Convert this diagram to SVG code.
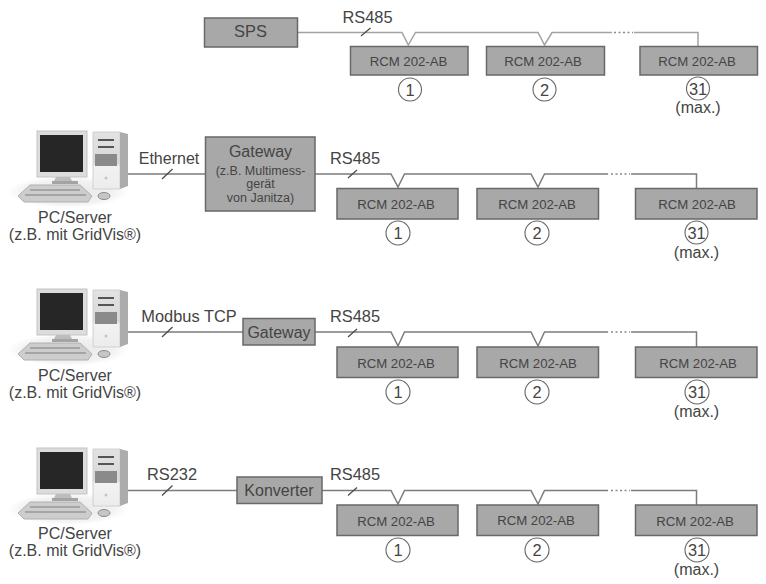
<svg xmlns="http://www.w3.org/2000/svg" xmlns:xlink="http://www.w3.org/1999/xlink" width="766" height="584" viewBox="0 0 766 584">
<style>
text{font-family:"Liberation Sans",Arial,sans-serif;fill:#444;text-anchor:middle}
.box{fill:#a8a8a8;stroke:#686868;stroke-width:1.5}
.rcm{font-size:13.2px}
.lab{font-size:16.4px}
.title{font-size:16px}
.small{font-size:12.5px}
.pc{font-size:16px}
.wire{fill:none;stroke:#7c7c7c;stroke-width:1.5}
.light{fill:none;stroke:#a2a2a2;stroke-width:1.5}
.dark{fill:none;stroke:#4c4c4c;stroke-width:1.3}
.dot{fill:none;stroke:#8a8a8a;stroke-width:1.5;stroke-dasharray:2 2.500}
.circ{fill:#fff;stroke:#666;stroke-width:1.1}
</style>
<defs>
<linearGradient id="tower" x1="0" x2="0" y1="0" y2="1"><stop offset="0" stop-color="#e2e2e2"/><stop offset="0.55" stop-color="#d8d8d8"/><stop offset="0.6" stop-color="#f2f2f2"/><stop offset="1" stop-color="#ececec"/></linearGradient>
<radialGradient id="glow"><stop offset="0" stop-color="#e6e6e6"/><stop offset="0.75" stop-color="#f2f2f2"/><stop offset="1" stop-color="#fff"/></radialGradient>
<g id="pcicon">
<ellipse cx="68" cy="72" rx="60" ry="16" fill="url(#glow)"/>
<rect x="37" y="11" width="50" height="46" fill="#dcdcdc" stroke="#c4c4c4"/>
<rect x="40" y="15" width="43" height="37" fill="#262626"/>
<path d="M56 57h14l2 4H54z" fill="#bcbcbc"/>
<rect x="52" y="61" width="26" height="3" fill="#a4a4a4"/>
<path d="M93 12H120V69H93z" fill="url(#tower)" stroke="#d0d0d0"/>
<path d="M120 12l8 2V66l-8 3z" fill="#acacac"/>
<rect x="98" y="19" width="16" height="2" fill="#555"/>
<rect x="98" y="26" width="16" height="2" fill="#555"/>
<rect x="95" y="34" width="22" height="12" fill="#8a8a8a"/>
<circle cx="106" cy="58" r="1.500" fill="#c4c4c4"/>
<path d="M30 65H80L92 76 88 82H24L18 76z" fill="#cdcdcd" stroke="#b0b0b0"/>
<path d="M30 70H80M25 75H86" stroke="#989898" stroke-width="1.500" fill="none"/>
<ellipse cx="104" cy="76" rx="6" ry="3.500" fill="#c6c6c6" stroke="#8c8c8c"/>
</g>
</defs>

<g id="connectors">
<path class="light" d="M297.500 32.500H402L408.300 45 415.500 32.500H538L544.500 45 552 32.500H612"/>
<path class="dot" d="M614 32.500H633"/>
<path class="light" d="M634 32.500H698V46"/>
<path class="dark" d="M361 36l9.500-8"/>
<path class="wire" d="M128 174H206M315 174H391L398 187 404.500 174H531L538 187 544.500 174H608"/>
<path class="dot" d="M611 174H630"/><path class="wire" d="M631 174H696.500V188"/>
<path class="dark" d="M162 179l10.500-10M348 178l9-8"/>
<path class="wire" d="M128 332H243M315 332H391L398 346 404.500 332H531L538 346 544.500 332H608"/>
<path class="dot" d="M611 332H630"/><path class="wire" d="M631 332H696.500V347"/>
<path class="dark" d="M162 337l10.500-10M348 337l9-8"/>
<path class="wire" d="M128 490.500H237M322 490.500H391L398 504 404.500 490.500H531L538 504 544.500 490.500H608"/>
<path class="dot" d="M611 490.500H630"/><path class="wire" d="M631 490.500H696.500V505"/>
<path class="dark" d="M162 495.500l10.500-10M348 495.500l9-8"/>
</g>

<g id="sps"><rect class="box" x="204.500" y="18" width="93" height="29"/><text class="lab" x="250.500" y="37">SPS</text></g>
<text class="lab" x="367.500" y="23">RS485</text>
<g id="r1-1"><rect class="box" x="350.500" y="46.500" width="117.500" height="28.500"/><text class="rcm" x="408.500" y="66">RCM 202-AB</text></g>
<g id="r1-2"><rect class="box" x="486.500" y="46.500" width="118" height="28.500"/><text class="rcm" x="543" y="66">RCM 202-AB</text></g>
<g id="r1-3"><rect class="box" x="640" y="46.500" width="117.500" height="28.500"/><text class="rcm" x="697" y="66">RCM 202-AB</text></g>
<circle class="circ" cx="410" cy="89.500" r="11.500"/><text class="lab" x="410" y="95.500">1</text>
<circle class="circ" cx="544.500" cy="89.500" r="11.500"/><text class="lab" x="544.500" y="95.500">2</text>
<circle class="circ" cx="698" cy="88.500" r="11.500"/><text class="lab" x="698" y="94.500">31</text>
<text class="pc" x="698" y="113">(max.)</text>

<g id="pc1"><use xlink:href="#pcicon" x="0" y="120"/><text class="pc" x="75" y="222.500">PC/Server</text><text class="pc" x="75" y="239.500">(z.B. mit GridVis®)</text></g>
<text class="title" x="169" y="164">Ethernet</text>
<g id="gw1"><rect class="box" x="205.500" y="137" width="109.500" height="74"/>
<text class="title" x="260.500" y="157">Gateway</text><text class="small" x="260.500" y="174.500">(z.B. Multimess-</text><text class="small" x="260.500" y="188">gerät</text><text class="small" x="260.500" y="201.500">von Janitza)</text></g>
<text class="lab" x="355" y="164">RS485</text>
<g id="r2-1"><rect class="box" x="337" y="188.500" width="121" height="30.500"/><text class="rcm" x="396" y="209">RCM 202-AB</text></g>
<g id="r2-2"><rect class="box" x="477" y="188.500" width="121.500" height="30.500"/><text class="rcm" x="537" y="209">RCM 202-AB</text></g>
<g id="r2-3"><rect class="box" x="635.500" y="188.500" width="121.500" height="30.500"/><text class="rcm" x="697" y="209">RCM 202-AB</text></g>
<circle class="circ" cx="398" cy="233" r="12"/><text class="lab" x="398" y="239">1</text>
<circle class="circ" cx="537" cy="233" r="12"/><text class="lab" x="537" y="239">2</text>
<circle class="circ" cx="696.500" cy="232.500" r="11.500"/><text class="lab" x="696.500" y="238.500">31</text>
<text class="pc" x="696.500" y="258">(max.)</text>

<g id="pc2"><use xlink:href="#pcicon" x="0" y="278"/><text class="pc" x="75" y="381">PC/Server</text><text class="pc" x="75" y="398">(z.B. mit GridVis®)</text></g>
<text class="lab" x="189" y="322">Modbus TCP</text>
<g id="gw2"><rect class="box" x="243" y="318.500" width="72" height="26.500"/><text class="title" x="279" y="337.500">Gateway</text></g>
<text class="lab" x="355" y="322">RS485</text>
<g id="r3-1"><rect class="box" x="337" y="347" width="121" height="30.500"/><text class="rcm" x="396" y="368">RCM 202-AB</text></g>
<g id="r3-2"><rect class="box" x="477" y="347" width="121.500" height="30.500"/><text class="rcm" x="538" y="368">RCM 202-AB</text></g>
<g id="r3-3"><rect class="box" x="635.500" y="347" width="121.500" height="30.500"/><text class="rcm" x="698" y="368">RCM 202-AB</text></g>
<circle class="circ" cx="398" cy="392" r="12"/><text class="lab" x="398" y="398">1</text>
<circle class="circ" cx="537" cy="392" r="12"/><text class="lab" x="537" y="398">2</text>
<circle class="circ" cx="697" cy="392" r="12"/><text class="lab" x="697" y="398">31</text>
<text class="pc" x="696.500" y="417">(max.)</text>

<g id="pc3"><use xlink:href="#pcicon" x="0" y="437"/><text class="pc" x="75" y="539">PC/Server</text><text class="pc" x="75" y="556">(z.B. mit GridVis®)</text></g>
<text class="lab" x="172" y="480">RS232</text>
<g id="conv"><rect class="box" x="237" y="477" width="85" height="26.500"/><text class="title" x="279" y="496">Konverter</text></g>
<text class="lab" x="355" y="480">RS485</text>
<g id="r4-1"><rect class="box" x="337" y="505" width="121" height="30.500"/><text class="rcm" x="396" y="526">RCM 202-AB</text></g>
<g id="r4-2"><rect class="box" x="477" y="505" width="121.500" height="30.500"/><text class="rcm" x="536" y="525">RCM 202-AB</text></g>
<g id="r4-3"><rect class="box" x="635.500" y="505" width="121.500" height="30.500"/><text class="rcm" x="695" y="526">RCM 202-AB</text></g>
<circle class="circ" cx="398" cy="550" r="12"/><text class="lab" x="398" y="556">1</text>
<circle class="circ" cx="537" cy="550" r="12"/><text class="lab" x="537" y="556">2</text>
<circle class="circ" cx="697" cy="550" r="12"/><text class="lab" x="697" y="556">31</text>
<text class="pc" x="696.500" y="575">(max.)</text>
</svg>
